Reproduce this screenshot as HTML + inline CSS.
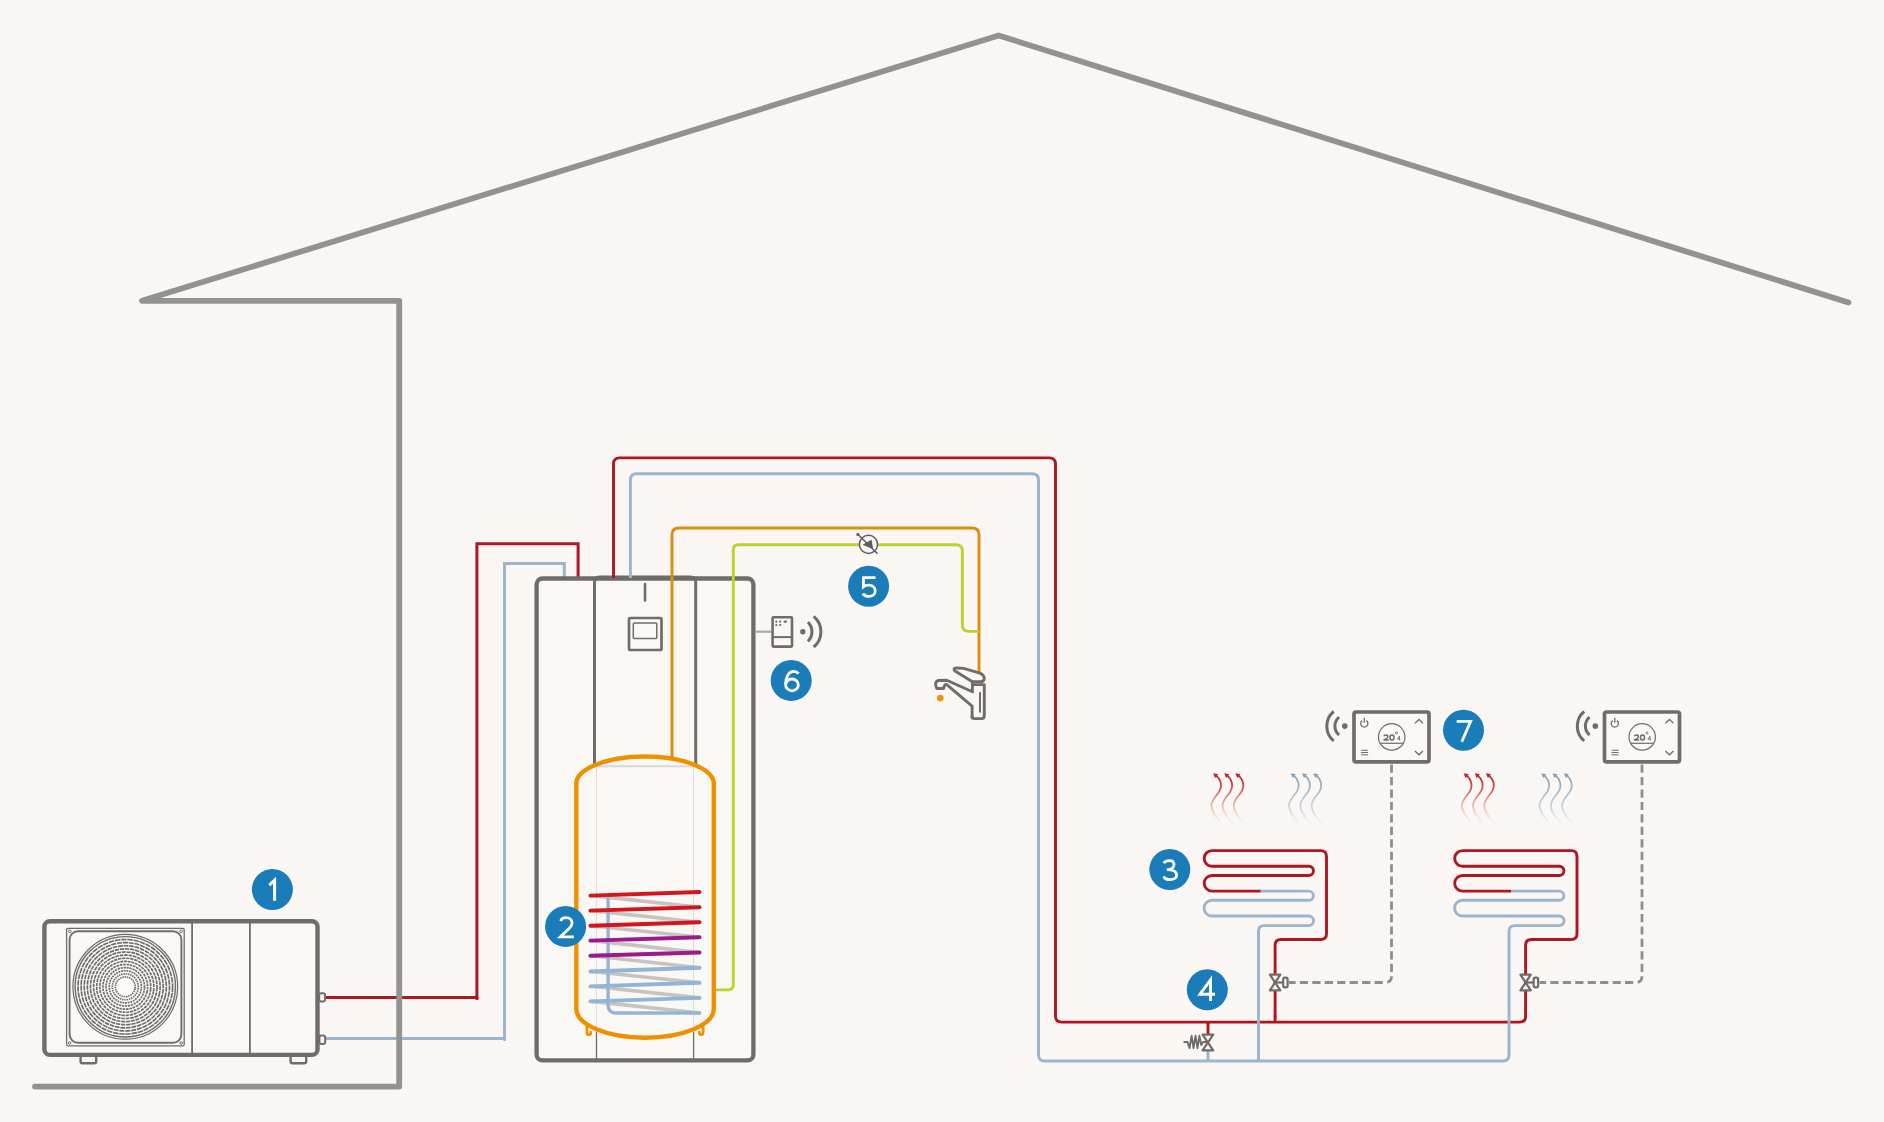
<!DOCTYPE html>
<html><head><meta charset="utf-8"><title>Heat pump system diagram</title>
<style>
html,body{margin:0;padding:0;background:#faf6f3;}
body{width:1884px;height:1122px;overflow:hidden;font-family:"Liberation Sans",sans-serif;}
svg{display:block;}
svg text{-webkit-font-smoothing:antialiased;}
.badge text{font-family:"Liberation Sans",sans-serif;font-size:32px;fill:#fff;text-anchor:middle;}
</style></head>
<body>
<svg width="1884" height="1122" viewBox="0 0 1884 1122" style="will-change:transform">
<defs>
  <linearGradient id="gr" x1="0" y1="0" x2="0" y2="1">
    <stop offset="0" stop-color="#bf2229" stop-opacity="1"/>
    <stop offset="0.3" stop-color="#cd4d40" stop-opacity="0.92"/>
    <stop offset="0.65" stop-color="#e29a86" stop-opacity="0.6"/>
    <stop offset="1" stop-color="#f0c8c0" stop-opacity="0.12"/>
  </linearGradient>
  <linearGradient id="gb" x1="0" y1="0" x2="0" y2="1">
    <stop offset="0" stop-color="#879fb5" stop-opacity="0.95"/>
    <stop offset="0.3" stop-color="#94abc0" stop-opacity="0.85"/>
    <stop offset="0.65" stop-color="#a9bccd" stop-opacity="0.62"/>
    <stop offset="1" stop-color="#c8d4de" stop-opacity="0.12"/>
  </linearGradient>
</defs>
<rect width="1884" height="1122" fill="#faf6f3"/>

<!-- PIPES: heat pump to tank -->
<g fill="none" stroke-width="3">
  <path d="M325.7,997.4 H476.9 V543.8 H578.1 V578" stroke="#ae1721"/>
  <circle cx="476.9" cy="998.4" r="1.8" fill="#ae1721" stroke="none"/>
  <path d="M325.7,1038.4 H504.5 V563.4 H564.3 V578" stroke="#9ab5cd"/>
  <circle cx="504.5" cy="1039.4" r="1.7" fill="#9ab5cd" stroke="none"/>
</g>
<!-- HOUSE -->
<path d="M1848.5,302.5 L998.7,35.5 L142,300.8 L399.2,300.8 L399.2,1086.6 L35,1086.6" fill="none" stroke="#92938e" stroke-width="5.8" stroke-linecap="round" stroke-linejoin="round"/>



<!-- OUTDOOR UNIT -->
<g id="odu" fill="none" stroke="#6f6c69">
  <rect x="44.4" y="921.3" width="273.1" height="133.6" rx="5.5" stroke-width="4.4" fill="#faf8f5"/>
  <line x1="192.1" y1="923" x2="192.1" y2="1053" stroke-width="1.8"/>
  <line x1="249.9" y1="923" x2="249.9" y2="1053" stroke-width="1.8"/>
  <rect x="66.6" y="928.3" width="117.6" height="117.5" rx="1.5" stroke-width="1.3"/>
  <rect x="69.6" y="931.2" width="111.8" height="111.6" rx="8.5" stroke-width="1.9"/>
  <circle cx="69.8" cy="931.3" r="1.3" stroke-width="1"/>
  <circle cx="181.2" cy="931.3" r="1.3" stroke-width="1"/>
  <circle cx="69.6" cy="1043" r="1.3" stroke-width="1"/>
  <circle cx="181.2" cy="1043" r="1.3" stroke-width="1"/>
  <g transform="translate(125.3,986.8)" stroke="#6c6b68">
    <circle r="52.4" stroke-width="1.2"/>
    <circle r="50.2" stroke-width="1.4"/>
    <circle r="47.30" stroke-width="1.65" stroke-dasharray="5.44 0.8" transform="rotate(0)"/>
    <circle r="44.18" stroke-width="1.65" stroke-dasharray="5.08 0.8" transform="rotate(7)"/>
    <circle r="41.06" stroke-width="1.65" stroke-dasharray="4.72 0.8" transform="rotate(13)"/>
    <circle r="37.94" stroke-width="1.65" stroke-dasharray="4.36 0.8" transform="rotate(4)"/>
    <circle r="34.82" stroke-width="1.65" stroke-dasharray="4.00 0.8" transform="rotate(11)"/>
    <circle r="31.70" stroke-width="1.65" stroke-dasharray="3.65 0.8" transform="rotate(2)"/>
    <circle r="28.58" stroke-width="1.65" stroke-dasharray="3.29 0.8" transform="rotate(9)"/>
    <circle r="25.46" stroke-width="1.65" stroke-dasharray="2.93 0.8" transform="rotate(5)"/>
    <circle r="22.34" stroke-width="1.65" stroke-dasharray="2.57 0.8" transform="rotate(12)"/>
    <circle r="19.22" stroke-width="1.65" stroke-dasharray="2.21 0.8" transform="rotate(3)"/>
    <circle r="16.10" stroke-width="1.65" stroke-dasharray="1.85 0.8" transform="rotate(8)"/>
    <circle r="12.98" stroke-width="1.65" stroke-dasharray="1.50 0.8" transform="rotate(6)"/>
    <circle r="9.86" stroke-width="1.65" stroke-dasharray="1.50 0.8" transform="rotate(10)"/>
    <circle r="8.7" fill="#fbfaf8" stroke="none"/>
  </g>
  <rect x="319.2" y="993.2" width="5.8" height="8.4" rx="2" stroke-width="2"/>
  <rect x="319.4" y="1035.5" width="5.8" height="8.4" rx="2.2" stroke-width="2"/>
  <rect x="80.6" y="1055" width="15.6" height="8.3" rx="2" stroke-width="2.4"/>
  <rect x="290.6" y="1055" width="15.6" height="8.3" rx="2" stroke-width="2.4"/>
</g>

<!-- TANK UNIT -->
<g id="tank">
  <rect x="536.6" y="578.5" width="216.8" height="481.9" rx="6" fill="#faf8f5" stroke="#6f6c69" stroke-width="4.3"/>
  <!-- front panel -->
  <path d="M594.5,766 V582 Q594.5,577 599.5,577 H690.7 Q695.7,577 695.7,582 V766" fill="none" stroke="#6f6c69" stroke-width="3"/>
  <line x1="596.5" y1="1030" x2="596.5" y2="1059" stroke="#6f6c69" stroke-width="1.3"/>
  <line x1="693.6" y1="1030" x2="693.6" y2="1059" stroke="#6f6c69" stroke-width="1.3"/>
  <line x1="645" y1="584" x2="645" y2="600.5" stroke="#6f6c69" stroke-width="2.6" stroke-linecap="round"/>
  <rect x="629" y="618" width="32.5" height="32" rx="1.5" fill="none" stroke="#6f6c69" stroke-width="2.7"/>
  <rect x="633.3" y="622.9" width="23.5" height="15.6" rx="1" fill="none" stroke="#6f6c69" stroke-width="1.5"/>
  <!-- inner faint lines -->
  <line x1="596.4" y1="766" x2="596.4" y2="1032" stroke="#dcdad8" stroke-width="1"/>
  <line x1="693.5" y1="766" x2="693.5" y2="1032" stroke="#dcdad8" stroke-width="1"/>
  <line x1="597" y1="766.2" x2="693" y2="766.2" stroke="#d9d8d8" stroke-width="2"/>
  <!-- orange cylinder -->
  <path d="M576.3,1008.8 V783.7 A68.75,27.2 0 0 1 713.8,783.7 V1008.8 A68.75,29 0 0 1 576.3,1008.8 Z" fill="none" stroke="#ef9000" stroke-width="4.4"/>
  <path d="M587,1025 V1032.2 Q587,1035 589.3,1034.6 Q591,1034.2 590.6,1032.2" fill="none" stroke="#ef9000" stroke-width="2.8" stroke-linecap="round"/>
  <path d="M703.1,1025 V1032.2 Q703.1,1035 700.8,1034.6 Q699.1,1034.2 699.5,1032.2" fill="none" stroke="#ef9000" stroke-width="2.8" stroke-linecap="round"/>
  <!-- coil: back grey lines -->
  <g stroke="#c6c3c1" stroke-width="3.6" stroke-linecap="round" fill="none">
    <line x1="592" y1="895.6" x2="699.5" y2="907.3"/>
    <line x1="592" y1="910.6" x2="699.5" y2="922.3"/>
    <line x1="592" y1="925.7" x2="699.5" y2="937.3"/>
    <line x1="592" y1="940.6" x2="699.5" y2="952.5"/>
    <line x1="592" y1="955.8" x2="699.5" y2="967.7"/>
    <line x1="592" y1="971.5" x2="699.5" y2="982.7"/>
    <line x1="592" y1="986.3" x2="699.5" y2="997.9"/>
    <line x1="592" y1="1001.4" x2="699.5" y2="1013"/>
  </g>
  <path d="M608.1,899 V1005 Q608.1,1013 616,1013 H699.5" fill="none" stroke="#92b5d7" stroke-width="3.4" stroke-linecap="round"/>
  <g stroke-width="3.9" stroke-linecap="round" fill="none">
    <line x1="590.4" y1="895.6" x2="699.5" y2="892" stroke="#d2161e"/>
    <line x1="590.4" y1="910.6" x2="699.5" y2="907.3" stroke="#d2161e"/>
    <line x1="590.4" y1="925.8" x2="699.5" y2="922.3" stroke="#d2161e"/>
    <line x1="590.4" y1="940.6" x2="699.5" y2="937.3" stroke="#9b1a8c"/>
    <line x1="590.4" y1="955.8" x2="699.5" y2="952.5" stroke="#9b1a8c"/>
    <line x1="590.4" y1="971.5" x2="699.5" y2="967.7" stroke="#92b5d7"/>
    <line x1="590.4" y1="986.4" x2="699.5" y2="982.7" stroke="#92b5d7"/>
    <line x1="590.4" y1="1001.4" x2="699.5" y2="997.9" stroke="#92b5d7"/>
  </g>
</g>

<!-- PIPES: tank to heating circuits -->
<g fill="none" stroke-width="2.9">
  <path d="M630.4,578 V480 Q630.4,473.7 636.7,473.7 H1032.1 Q1038.5,473.7 1038.5,480 V1054.7 Q1038.5,1061 1044.8,1061 H1502.7 Q1509,1061 1509,1054.7" stroke="#9ab5cd"/>
  <path d="M1208,1051 V1061 M1258.5,1061 V1054" stroke="#9ab5cd"/>
  <path d="M613.5,578 V464 Q613.5,457.9 619.6,457.9 H1049.3 Q1055.5,457.9 1055.5,464 V1016 Q1055.5,1022.1 1061.6,1022.1 H1519.8 Q1525.6,1022.1 1525.6,1016.3" stroke="#ae1721"/>
  <path d="M1208,1022.1 V1034 M1275.1,1022.1 V1015.5" stroke="#ae1721"/>
  <g id="coil">
    <path d="M1258.5,1055.5 V931.4 Q1258.5,925.6 1264.3,925.6 H1308.8 A4.8,4.8 0 0 0 1308.8,916 H1212 A7.85,7.85 0 0 1 1212,900.3 H1308.8 A4.6,4.6 0 0 0 1308.8,891.1 H1260.6" stroke="#9ab5cd"/>
    <path d="M1275.1,1017 V945.3 Q1275.1,939.5 1280.9,939.5 H1320.7 Q1326.5,939.5 1326.5,933.7 V856.4 Q1326.5,850.6 1320.7,850.6 H1212 A7.8,7.8 0 0 0 1212,866.2 H1308.8 A4.65,4.65 0 0 1 1308.8,875.5 H1212 A7.8,7.8 0 0 0 1212,891.1 H1260.6" stroke="#ae1721"/>
  </g>
  <use href="#coil" transform="translate(250.5,0)"/>
  <!-- DHW -->
  <path d="M672,759 V535 Q672,528 679,528 H972 Q979,528 979,535 V672" stroke="#df8c0e"/>
  <path d="M716,989.9 H728 Q733.3,989.9 733.3,984.6 V549.8 Q733.3,544.7 738.4,544.7 H956 Q962.4,544.7 962.4,551 V625.1 Q962.4,631.4 968.7,631.4 H979" stroke="#bfd12b"/>
</g>

<!-- Pump (5) -->
<g stroke="#5d5b65" fill="none">
  <circle cx="868.5" cy="544.4" r="9.1" stroke-width="1.5" fill="#faf6f3"/>
  <line x1="858.3" y1="534.7" x2="877.6" y2="553.8" stroke-width="1.5"/>
  <rect x="856.5" y="533.1" width="2.8" height="2.8" fill="#5d5b65" stroke="none"/>
  <path d="M862.5,544.8 L871.6,539.8 L873.2,549.2 Z" fill="#5d5b65" stroke="none"/>
</g>

<!-- Faucet -->
<g fill="none" stroke="#6f6c69" stroke-width="2.9" stroke-linejoin="round" stroke-linecap="round">
  <path d="M972.1,718 V706.2 L946.8,684.6 Q945,684.3 944.3,686 L943.7,688.5 H936.8 Q935.4,686 935.6,683.7 Q936.2,680.6 938.9,680.5 L946.8,680.3 L972.4,691.8 V681.8 L955,671 Q953,669.5 954.9,668.2 Q958,667.6 963.7,668.4 L979.9,673.1 Q984.6,675.5 984.3,678.9 Q983.6,681.8 980.5,681.8 H972.4"/>
  <path d="M972.4,684.6 H984.3 V715.5 Q984.3,718.6 981.5,718.6 H974.5 Q972.1,718.6 972.1,716"/>
  <line x1="980" y1="693" x2="980" y2="711.8" stroke-width="2"/>
</g>
<circle cx="940.3" cy="698.1" r="3.3" fill="#f0940e"/>

<!-- Device 6 -->
<g fill="none" stroke="#6f6c69">
  <line x1="755.8" y1="631.7" x2="771.5" y2="631.7" stroke="#aaa9a5" stroke-width="2.2"/>
  <rect x="772.6" y="617.2" width="19.4" height="29.4" rx="0.8" stroke-width="2.6"/>
  <line x1="772.6" y1="637.1" x2="792" y2="637.1" stroke-width="2"/>
  <g fill="#6f6c69" stroke="none">
    <circle cx="776.3" cy="621.7" r="1.1"/><circle cx="780.1" cy="621.7" r="1.1"/>
    <rect x="783.6" y="620.6" width="3.4" height="2.2" rx="1"/>
    <circle cx="776.3" cy="625.1" r="1.1"/><circle cx="780.1" cy="625.1" r="1.1"/>
    <circle cx="802.8" cy="631.7" r="2.7"/>
  </g>
  <path d="M807.9,622.2 A13.3,13.3 0 0 1 807.9,641.3" stroke-width="3"/>
  <path d="M813.7,616.4 A19.9,19.9 0 0 1 813.7,647" stroke-width="3"/>
</g>

<!-- HEATING ZONES -->
<g id="zone1">
  <!-- dashed control line -->
  <path d="M1289,982.5 H1385.3 Q1391.5,982.5 1391.5,976.3 V760" fill="none" stroke="#8f8e8a" stroke-width="2.8" stroke-dasharray="8.2 4.25" stroke-dashoffset="1.6"/>
  <!-- zone valve -->
  <g fill="none" stroke="#6f6c69" stroke-width="2.2" stroke-linejoin="round">
    <path d="M1269.9,974.6 H1280.3 L1269.9,990.4 H1280.3 Z" fill="#faf6f3"/>
    <line x1="1275.1" y1="982.5" x2="1283" y2="982.5"/>
    <rect x="1283.2" y="977.6" width="4.4" height="9.8" rx="1.6" fill="#faf6f3"/>
  </g>
  <!-- thermostat -->
  <g fill="none" stroke="#6f6c69">
    <rect x="1354" y="712" width="75" height="49.8" rx="2" stroke-width="3.7" fill="#faf8f5"/>
    <path d="M1362.2,720.6 A3.6,3.6 0 1 0 1366.4,720.6" stroke-width="1.3"/>
    <line x1="1364.3" y1="717.8" x2="1364.3" y2="722.8" stroke-width="1.3"/>
    <g stroke-width="1"><line x1="1361.1" y1="750.3" x2="1368.1" y2="750.3"/><line x1="1361.1" y1="752.5" x2="1368.1" y2="752.5"/><line x1="1361.1" y1="754.8" x2="1368.1" y2="754.8"/></g>
    <path d="M1414.9,723.2 L1419,719.4 L1422.9,723.2" stroke-width="1.3"/>
    <path d="M1414.9,751 L1419,754.8 L1422.9,751" stroke-width="1.3"/>
    <circle cx="1391.7" cy="736.9" r="13.2" stroke-width="1.2"/>
    <line x1="1380" y1="743.3" x2="1403.4" y2="743.3" stroke-width="1.2"/>
    <g stroke-width="1.45" stroke-linejoin="round">
      <path d="M1383.9,736.3 C1384.2,735.3 1385,734.95 1385.9,734.95 C1387.1,734.95 1387.9,735.7 1387.9,736.6 C1387.9,737.3 1387.5,737.8 1386.9,738.3 L1383.9,739.9 H1388.7"/>
      <ellipse cx="1392" cy="737.45" rx="2.05" ry="2.45"/>
    </g>
    <circle cx="1396.5" cy="733" r="1.05" stroke-width="0.8"/>
    <path d="M1400.5,739.1 H1397.3 L1399.5,736.2 V740.4" stroke-width="0.85"/>
    <circle cx="1344.8" cy="726.1" r="2.8" fill="#6f6c69" stroke="none"/>
    <path d="M1339.1,717.2 A11.5,11.5 0 0 0 1339.1,735" stroke-width="3"/>
    <path d="M1333.7,711.5 A19,19 0 0 0 1333.7,740.8" stroke-width="3"/>
  </g>
  <!-- warm / cool air waves -->
  <g transform="translate(1213.1,773.2)"><path d="M2.9,2.4 C7.9,5.9 9.4,12.9 6.4,17.9 C3.4,22.9 -2.1,26.9 -1.7,32.9 C-1.3,38.9 2.9,43.9 8.1,49.9" fill="none" stroke="url(#gr)" stroke-width="1.7" stroke-linecap="round"/><path d="M0,0 L5.2,1.0 L2.0,4.9 Z" fill="#bf2229"/></g>
  <g transform="translate(1224.2,773.2)"><path d="M2.9,2.4 C7.9,5.9 9.4,12.9 6.4,17.9 C3.4,22.9 -2.1,26.9 -1.7,32.9 C-1.3,38.9 2.9,43.9 8.1,49.9" fill="none" stroke="url(#gr)" stroke-width="1.7" stroke-linecap="round"/><path d="M0,0 L5.2,1.0 L2.0,4.9 Z" fill="#bf2229"/></g>
  <g transform="translate(1235.4,773.2)"><path d="M2.9,2.4 C7.9,5.9 9.4,12.9 6.4,17.9 C3.4,22.9 -2.1,26.9 -1.7,32.9 C-1.3,38.9 2.9,43.9 8.1,49.9" fill="none" stroke="url(#gr)" stroke-width="1.7" stroke-linecap="round"/><path d="M0,0 L5.2,1.0 L2.0,4.9 Z" fill="#bf2229"/></g>
  <g transform="translate(1290.7,773.2)"><path d="M2.9,2.4 C7.9,5.9 9.4,12.9 6.4,17.9 C3.4,22.9 -2.1,26.9 -1.7,32.9 C-1.3,38.9 2.9,43.9 8.1,49.9" fill="none" stroke="url(#gb)" stroke-width="1.7" stroke-linecap="round"/><path d="M0,0 L5.2,1.0 L2.0,4.9 Z" fill="#879fb5"/></g>
  <g transform="translate(1302.0,773.2)"><path d="M2.9,2.4 C7.9,5.9 9.4,12.9 6.4,17.9 C3.4,22.9 -2.1,26.9 -1.7,32.9 C-1.3,38.9 2.9,43.9 8.1,49.9" fill="none" stroke="url(#gb)" stroke-width="1.7" stroke-linecap="round"/><path d="M0,0 L5.2,1.0 L2.0,4.9 Z" fill="#879fb5"/></g>
  <g transform="translate(1313.3,773.2)"><path d="M2.9,2.4 C7.9,5.9 9.4,12.9 6.4,17.9 C3.4,22.9 -2.1,26.9 -1.7,32.9 C-1.3,38.9 2.9,43.9 8.1,49.9" fill="none" stroke="url(#gb)" stroke-width="1.7" stroke-linecap="round"/><path d="M0,0 L5.2,1.0 L2.0,4.9 Z" fill="#879fb5"/></g>
</g>
<use href="#zone1" transform="translate(250.5,0)"/>

<!-- Bypass valve (4) -->
<g fill="none" stroke="#6f6c69" stroke-width="2.2" stroke-linejoin="round">
  <path d="M1202.6,1034.6 H1213.2 L1202.6,1050.4 H1213.2 Z" fill="#faf6f3"/>
  <path d="M1183.5,1042 H1187.5 L1189.5,1048 L1191.6,1035.8 L1193.5,1048.2 L1195.5,1035.8 L1197.5,1048.2 L1199.4,1035.8 L1201.2,1045 L1203,1042 H1207" stroke-width="1.9" stroke-linejoin="round"/>
</g>

<!-- BADGES -->
<g class="badge">
  <circle cx="272.4" cy="889.5" r="20.5" fill="#1a7cb9"/>
  <circle cx="565.6" cy="926.4" r="20.5" fill="#1a7cb9"/>
  <circle cx="1169.8" cy="869.5" r="20.5" fill="#1a7cb9"/>
  <circle cx="1207.3" cy="989.7" r="20.5" fill="#1a7cb9"/>
  <circle cx="868.6" cy="586.2" r="20.5" fill="#1a7cb9"/>
  <circle cx="791.2" cy="680.4" r="20.5" fill="#1a7cb9"/>
  <circle cx="1463.5" cy="730.2" r="20.5" fill="#1a7cb9"/>
  <g fill="none" stroke="#fff" stroke-width="2.8" stroke-linejoin="miter" stroke-linecap="butt">
    <path d="M269.3,885.2 L274.6,880.2 V900.7" stroke-width="3"/>
    <path d="M560.6,921 C561.5,918.3 563.5,917.6 566,917.6 C569.5,917.6 572.1,919.6 572.1,922.8 C572.1,925 571,926.5 569.6,928 L560.3,936.8 H573.8"/>
    <path d="M1163.8,863.3 C1164.8,861 1167,860.6 1169.5,860.6 C1172.3,860.6 1174,862.3 1174,864.6 C1174,867.5 1171.5,869.6 1167.5,869.6 H1166.8 M1167.5,869.6 C1172.5,869.6 1176.6,871.5 1176.6,875 C1176.6,878 1173.8,879.6 1170.2,879.6 C1167,879.6 1164.6,878.5 1163.6,876.5"/>
    <path d="M1215,994.2 H1200 L1210.5,979.9 V1001.1" stroke-width="2.9"/>
    <path d="M875.5,577.6 H863.6 L863.3,586.8 C864.8,585.6 866.8,585.2 868.8,585.2 C872.6,585.2 875.2,587.7 875.2,591.1 C875.2,594.3 872.5,596.4 869.1,596.4 C866.2,596.4 864,595.3 862.8,593.6"/>
    <ellipse cx="792" cy="684.9" rx="6.3" ry="5.9"/>
    <path d="M785.7,685 C785.7,676 789.5,671.4 793.5,671.4 C795.8,671.4 797.5,672.2 798.6,673.6"/>
    <path d="M1456.7,721.4 H1470.6 L1461.8,741.7"/>
  </g>
</g>

</svg>
</body></html>
